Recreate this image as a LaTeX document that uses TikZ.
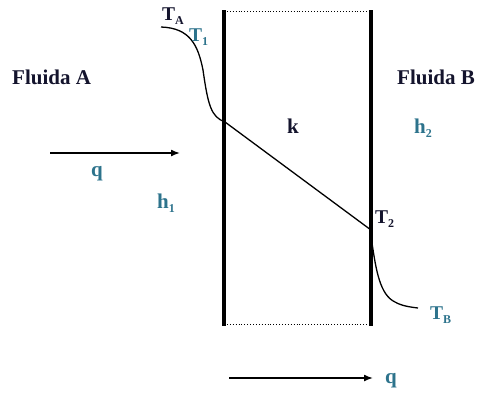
\documentclass[tikz,border=0pt]{standalone}
\usepackage{fontspec}
\setmainfont{Liberation Serif}
\usetikzlibrary{arrows.meta}
\definecolor{teal2}{RGB}{45,115,140}
\definecolor{navy}{RGB}{20,20,45}
\newcommand{\mysub}[1]{\raisebox{-4pt}{\fontsize{12}{12}\selectfont #1}}
\begin{document}
\begin{tikzpicture}[x=1pt,y=-1pt,
  lbl/.style={font=\fontsize{21}{24}\selectfont\bfseries, inner sep=0pt, anchor=base west},
  tlbl/.style={font=\fontsize{19.5}{22}\selectfont\bfseries, inner sep=0pt, anchor=base west},
  wall/.style={line width=4pt},
  dotln/.style={line width=0.9pt, dotted},
  curve/.style={line width=1.3pt},
  flow/.style={line width=1.5pt, -{Latex[length=9pt,width=7pt]}}]
\useasboundingbox (0,0) rectangle (479,392);
% walls
\coordinate (lt) at (224,10);
\coordinate (lb) at (224,326);
\coordinate (rt) at (371,10);
\coordinate (rb) at (371,326);
\draw[wall] (lt) -- (lb);
\draw[wall] (rt) -- (rb);
\draw[dotln] (224,11) -- (371,11);
\draw[dotln] (224,324) -- (371,324);
% temperature profile
\coordinate (ta) at (161,27);
\coordinate (t1) at (225,122);
\coordinate (t2) at (371,230);
\coordinate (t2b) at (372,243);
\coordinate (tb) at (418,308);
\draw[curve] (ta) .. controls (190,28) and (198,45) .. (203,70)
  .. controls (208,105) and (211,117) .. (t1);
\draw[curve] (t1) -- (t2);
\draw[curve] (t2b) .. controls (376,270) and (380,295) .. (395,302)
  .. controls (402,306) and (410,307) .. (tb);
% arrows
\coordinate (a1s) at (50,153);
\coordinate (a1e) at (180,153);
\coordinate (a2s) at (229,378);
\coordinate (a2e) at (373,378);
\draw[flow] (a1s) -- (a1e);
\draw[flow] (a2s) -- (a2e);
% labels
\node[lbl, text=navy] (fa) at (12,84) {Fluida A};
\node[lbl, text=navy] (fb) at (397,84) {Fluida B};
\node[tlbl, text=navy] (lta) at (162,20) {T\mysub{A}};
\node[tlbl, text=teal2] (lt1) at (189,41) {T\mysub{1}};
\node[tlbl, text=navy] (lt2) at (375,223) {T\mysub{2}};
\node[tlbl, text=teal2] (ltb) at (430,319) {T\mysub{B}};
\node[lbl, text=navy] (k) at (287,133) {k};
\node[lbl, text=teal2] (h2) at (414,133) {h\mysub{2}};
\node[lbl, text=teal2] (h1) at (157,208) {h\mysub{1}};
\node[lbl, text=teal2] (q1) at (91,176) {q};
\node[lbl, text=teal2] (q2) at (385,383) {q};
\end{tikzpicture}
\end{document}
